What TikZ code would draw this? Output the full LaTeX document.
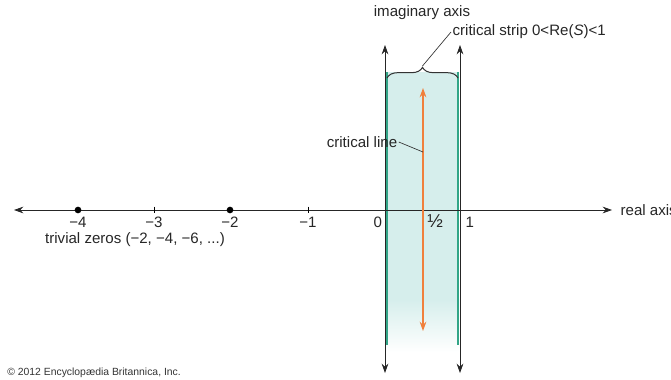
\documentclass[tikz,border=0pt]{standalone}
\usepackage{fontspec}
\setmainfont{Liberation Sans}
\usetikzlibrary{arrows.meta,decorations.pathreplacing,positioning}
\definecolor{stripc}{RGB}{214,238,236}
\definecolor{edgec}{RGB}{50,165,135}
\definecolor{critc}{RGB}{240,128,60}

\begin{document}
\begin{tikzpicture}[
    x=.75pt,y=-.75pt,
    ax/.style={{Stealth[length=7pt,width=5pt]}-{Stealth[length=7pt,width=5pt]},line width=.6pt,black!85},
    edge/.style={line width=1.2pt,edgec},
    crit/.style={{Stealth[length=7pt,width=5pt]}-{Stealth[length=7pt,width=5pt]},line width=.9pt,critc},
    lbl/.style={font=\fontsize{11.3}{13}\selectfont,text=black!85,inner sep=1pt},
    lead/.style={line width=.5pt,black!80},
    zero/.style={circle,fill=black,inner sep=0pt,minimum size=5pt}
  ]
  \useasboundingbox (0,0) rectangle (671,379);
  % critical strip
  \fill[stripc] (386,72) rectangle (459,300);
  \shade[top color=stripc,bottom color=white] (386,299.5) rectangle (459,352);
  \draw[edge] (387,72) -- (387,345); \draw[edge] (458,72) -- (458,345);
  % axes
  \coordinate (rl) at (14,210); \coordinate (rr) at (612,210);
  \coordinate (ztop) at (385,45); \coordinate (zbot) at (385,373);
  \coordinate (otop) at (460,45); \coordinate (obot) at (460,373);
  \draw[ax] (rl) -- (rr);
  \draw[ax] (zbot) -- (ztop); \draw[ax] (obot) -- (otop);
  \foreach \n/\x in {m4/78,m3/154,m2/230,m1/308,z/385,h/423,o/460} {\coordinate (t\n) at (\x,210);}
  \foreach \n in {m3,m1} {\draw[line width=.6pt] ([yshift=2.5pt]t\n) -- ([yshift=-2.5pt]t\n);}
  \node[zero] (d4) at (tm4) {}; \node[zero] (d2) at (tm2) {};
  \node[lbl,below=4pt of tm4] (l4) {−4}; \node[lbl,below=4pt of tm3] (l3) {−3};
  \node[lbl,below=4pt of tm2] (l2) {−2}; \node[lbl,below=4pt of tm1] (l1) {−1};
  \node[lbl,below left=4pt and 1pt of tz] (l0) {0};
  \node[lbl,font=\fontsize{14}{15}\selectfont,below right=2.5pt and 2pt of th] (lh) {½};
  \node[lbl,below right=4pt and 3pt of to] (lo) {1};
  \node[lbl,anchor=west] (real) at (619,210) {real axis};
  \node[lbl] (triv) at (135,240) {trivial zeros (−2, −4, −6, ...)};
  % critical line
  \coordinate (cltop) at (423,88); \coordinate (clbot) at (423,331);
  \draw[crit] (clbot) -- (cltop);
  \node[lbl] (clab) at (362,142) {critical line};
  \coordinate (clpt) at (423,152);
  \draw[lead] (clab.east) -- (clpt);
  % brace and labels on top
  \draw[lead,line width=.75pt,decorate,decoration={brace,amplitude=8pt}] (387,78) -- (458,78);
  \coordinate (btip) at (422.5,66);
  \node[lbl,anchor=west] (strip) at (451,32) {critical strip 0<Re(\textit{S})<1};
  \draw[lead] (btip) -- (strip.west);
  \node[lbl] (imag) at (422,13) {imaginary axis};
  \node[font=\fontsize{7.8}{9}\selectfont,text=black!80,anchor=west,inner sep=0pt] (copy) at (7,373) {© 2012 Encyclopædia Britannica, Inc.};
\end{tikzpicture}
\end{document}
